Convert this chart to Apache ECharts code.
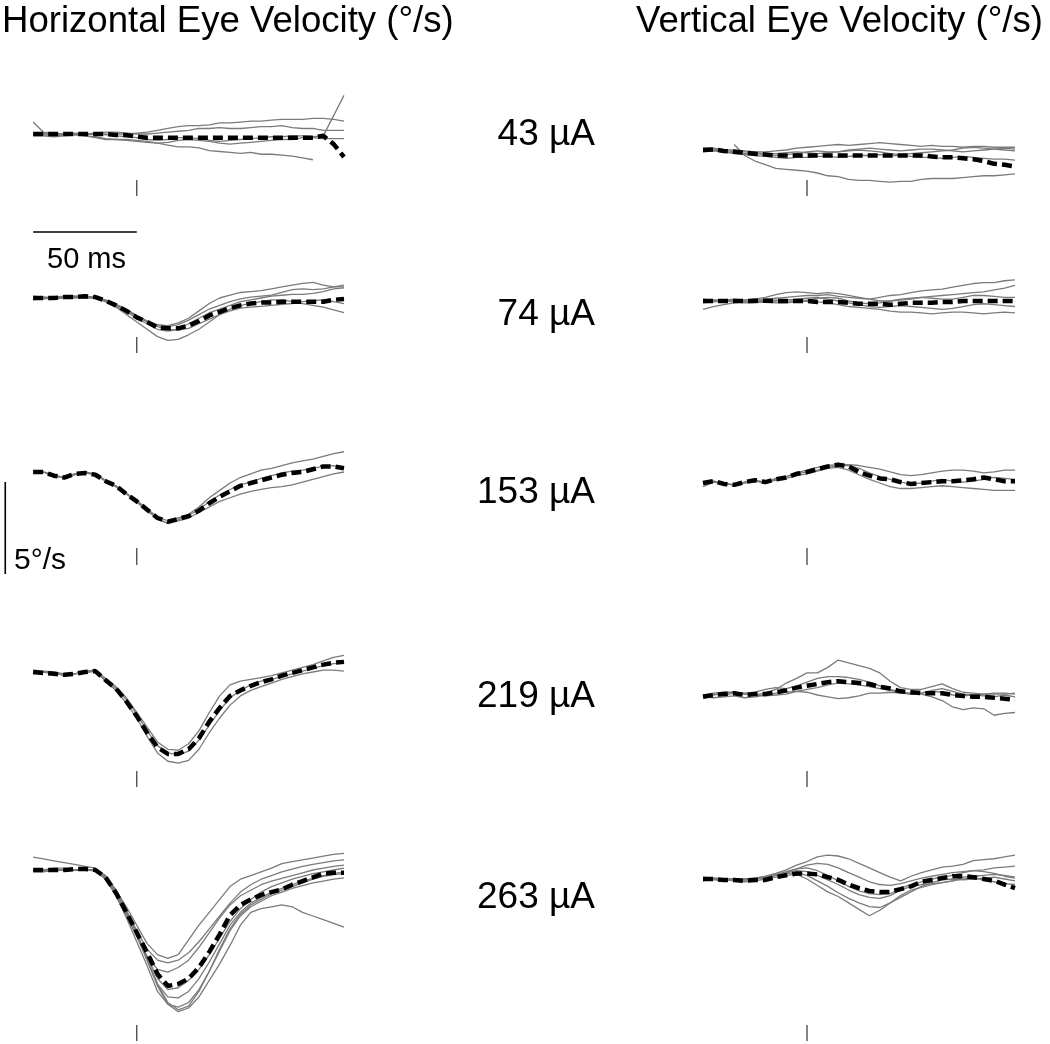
<!DOCTYPE html>
<html><head><meta charset="utf-8">
<script src="https://cdn.jsdelivr.net/npm/echarts@6/dist/echarts.min.js"></script>
<style>html,body{margin:0;padding:0;background:#fff}#c{width:1050px;height:1044px}</style>
</head><body><div id="c"></div>
<script>
// ---- time axis (ms relative to stimulation) ----
const timeMs = [-50,-45,-40,-35,-30,-25,-20,-15,-10,-5,0,5,10,15,20,25,30,35,40,45,50,55,60,65,70,75,80,85,90,95,100];

// ---- labels ----
const currents = ['43 µA','74 µA','153 µA','219 µA','263 µA'];
const titleH = 'Horizontal Eye Velocity (°/s)';
const titleV = 'Vertical Eye Velocity (°/s)';
const scaleTimeLabel = '50 ms';
const scaleVelLabel = '5°/s';
const scaleTimeMs = 50;
const scaleVelDeg = 5;

// ---- Horizontal velocity (°/s) ----
const H43_mean = [0,0,0,0,0, 0,0,0,-0.05,-0.05, -0.15,-0.2,-0.2,-0.2,-0.2, -0.2,-0.2,-0.2,-0.2,-0.2, -0.2,-0.2,-0.2,-0.2,-0.2, -0.2,-0.2,-0.2,-0.1,-0.55, -1.25];
const H43_trials = [
 [0,0.05,0,0,0.05, 0,0,-0.05,0,0, 0.05,0.1,0.2,0.3,0.4, 0.45,0.45,0.5,0.6,0.6, 0.65,0.7,0.7,0.75,0.8, 0.8,0.8,0.85,0.85,0.8, 0.7],
 [0,-0.05,-0.1,-0.05,0, -0.1,-0.2,-0.3,-0.3,-0.3, -0.35,-0.4,-0.5,-0.6,-0.7, -0.7,-0.75,-0.9,-0.95,-1.0, -1.05,-1.0,-1.1,-1.1,-1.15, -1.2,-1.3,-1.4,null,null, null],
 [0,0,0,-0.05,0, 0,0,0,-0.1,-0.15, -0.2,-0.3,-0.35,-0.3,-0.2, -0.2,-0.25,-0.35,-0.4,-0.35, -0.3,-0.25,-0.2,-0.15,-0.15, -0.1,-0.1,-0.15,-0.1,1.0, 2.1],
 [0.65,0.1,0.05,0,0, 0,0.05,0.1,0.1,0.05, 0,0,0.05,0.1,0.15, 0.2,0.3,0.3,0.35,0.3, 0.3,0.35,0.4,0.4,0.45, 0.35,0.3,0.3,0.2,0.2, 0.2],
 [-0.1,-0.1,-0.15,-0.1,-0.05, -0.1,-0.15,-0.25,-0.3,-0.35, -0.4,-0.45,-0.5,-0.45,-0.35, -0.3,-0.35,-0.4,-0.5,-0.55, -0.5,-0.45,-0.4,-0.35,-0.3, -0.3,-0.2,-0.2,-0.25,-0.25, -0.25]
];
const H74_mean = [0,0,0,0.05,0.05, 0.1,0.05,-0.15,-0.4,-0.7, -1.05,-1.3,-1.6,-1.65,-1.65, -1.5,-1.25,-0.95,-0.75,-0.55, -0.4,-0.3,-0.25,-0.25,-0.2, -0.2,-0.2,-0.2,-0.2,-0.1, -0.05];
const H74_trials = [
 [0.05,0,0.05,0.1,0.05, 0.1,0.05,-0.15,-0.4,-0.7, -1.0,-1.25,-1.45,-1.5,-1.35, -1.1,-0.7,-0.3,0,0.15, 0.3,0.35,0.4,0.5,0.6, 0.7,0.8,0.85,0.7,0.6, 0.6],
 [-0.1,0,0.05,0,0.05, 0,0,-0.2,-0.5,-0.9, -1.3,-1.7,-2.1,-2.3,-2.25, -2.0,-1.7,-1.3,-0.9,-0.6, -0.4,-0.3,-0.2,-0.1,-0.1, -0.2,-0.3,-0.4,-0.5,-0.65, -0.8],
 [0,0.05,0,0.05,0.1, 0.1,0,-0.2,-0.45,-0.75, -1.1,-1.4,-1.7,-1.8,-1.7, -1.4,-1.1,-0.8,-0.6,-0.4, -0.2,-0.1,0,0.1,0.15, 0.2,0.2,0.25,0.35,0.5, 0.55],
 [0,-0.05,0,0,0, 0.05,0.05,-0.15,-0.35,-0.65, -1.0,-1.3,-1.55,-1.7,-1.75, -1.65,-1.4,-1.15,-0.9,-0.7, -0.55,-0.5,-0.45,-0.4,-0.35, -0.3,-0.2,-0.15,-0.1,-0.2, -0.3],
 [0.1,0.05,0,0,0.1, 0.05,0,-0.1,-0.35,-0.6, -0.95,-1.25,-1.5,-1.55,-1.45, -1.2,-0.9,-0.6,-0.4,-0.2, -0.05,0.05,0.1,0.15,0.3, 0.45,0.5,0.45,0.5,0.6, 0.7]
];
const H153_mean = [0,0,-0.2,-0.3,-0.1, -0.05,-0.15,-0.5,-0.75,-1.2, -1.6,-2.05,-2.5,-2.7,-2.55, -2.4,-2.1,-1.7,-1.35,-1.05, -0.75,-0.6,-0.45,-0.3,-0.15, -0.05,0,0.15,0.3,0.3, 0.2];
const H153_trials = [
 [0,0,-0.2,-0.3,-0.1, 0,-0.1,-0.5,-0.8,-1.2, -1.6,-2.1,-2.5,-2.8,-2.6, -2.3,-1.9,-1.4,-1.0,-0.6, -0.3,-0.1,0.1,0.2,0.35, 0.5,0.6,0.7,0.85,1.0, 1.1],
 [0,0,-0.25,-0.3,-0.1, -0.05,-0.15,-0.5,-0.8,-1.2, -1.65,-2.1,-2.55,-2.8,-2.65, -2.5,-2.2,-1.9,-1.6,-1.4, -1.2,-1.05,-0.95,-0.85,-0.8, -0.7,-0.55,-0.4,-0.25,-0.1, 0],
 [0.05,0,-0.15,-0.3,-0.15, -0.05,-0.1,-0.45,-0.75,-1.15, -1.55,-2.0,-2.45,-2.65,-2.5, -2.35,-2.05,-1.6,-1.25,-0.95, -0.7,-0.55,-0.35,-0.2,-0.05, 0.05,0.1,0.2,0.3,0.35, 0.2]
];
const H219_mean = [0,-0.05,-0.1,-0.15,-0.1, 0,0.05,-0.45,-0.9,-1.6, -2.4,-3.3,-4.1,-4.45,-4.45, -4.2,-3.6,-2.7,-1.95,-1.3, -1.0,-0.75,-0.55,-0.4,-0.2, -0.05,0.1,0.25,0.4,0.5, 0.55];
const H219_trials = [
 [0,0,-0.1,-0.15,-0.1, 0,0.05,-0.5,-1.0,-1.7, -2.5,-3.5,-4.4,-4.85,-4.95, -4.8,-4.2,-3.3,-2.5,-1.8, -1.3,-1.0,-0.8,-0.6,-0.4, -0.25,-0.1,0,0.1,0.1, 0.05],
 [0.1,0.05,0,-0.1,-0.1, 0.05,0.1,-0.35,-0.8,-1.4, -2.2,-3.0,-3.8,-4.2,-4.25, -3.9,-3.2,-2.2,-1.3,-0.7, -0.5,-0.4,-0.3,-0.2,-0.05, 0.1,0.25,0.4,0.6,0.8, 0.9],
 [-0.1,0,-0.05,-0.2,-0.1, -0.05,0.05,-0.45,-0.9,-1.5, -2.3,-3.2,-4.0,-4.4,-4.5, -4.3,-3.7,-2.9,-2.1,-1.4, -1.0,-0.7,-0.5,-0.4,-0.25, -0.1,0.05,0.2,0.35,0.45, 0.5]
];
const H263_mean = [0,0,0,0,0.05, 0.05,0,-0.4,-1.25,-2.3, -3.4,-4.5,-5.65,-6.3,-6.2, -5.9,-5.3,-4.45,-3.5,-2.45, -1.9,-1.6,-1.35,-1.2,-1.05, -0.8,-0.6,-0.4,-0.2,-0.15, -0.15];
const H263_trials = [
 [0.7,0.6,0.5,0.4,0.3, 0.2,0.1,-0.3,-1.1,-2.0, -3.0,-4.0,-4.6,-4.8,-4.6, -3.8,-3.0,-2.3,-1.6,-0.9, -0.5,-0.3,-0.1,0.1,0.35, 0.45,0.55,0.65,0.75,0.85, 0.9],
 [0,0,0.1,0.1,0, 0,0,-0.4,-1.2,-2.2, -3.3,-4.3,-4.9,-5.05,-4.9, -4.5,-3.9,-3.2,-2.5,-1.8, -1.2,-0.8,-0.5,-0.3,-0.1, 0.05,0.2,0.3,0.4,0.5, 0.55],
 [0,0,0,0,0, 0,0,-0.5,-1.4,-2.5, -3.6,-4.7,-5.4,-5.55,-5.3, -4.9,-4.2,-3.4,-2.6,-1.9, -1.4,-1.1,-0.8,-0.6,-0.45, -0.3,-0.15,0,0.1,0.2, 0.27],
 [0,0,-0.05,0,0, 0,0,-0.4,-1.3,-2.4, -3.5,-4.7,-5.9,-6.5,-6.4, -6.0,-5.4,-4.6,-3.7,-2.8, -2.1,-1.6,-1.2,-0.9,-0.7, -0.5,-0.35,-0.2,-0.1,0, 0.1],
 [0,0,0,0,0, 0,0,-0.4,-1.3,-2.4, -3.6,-4.9,-6.2,-6.9,-6.95, -6.6,-5.9,-5.0,-4.0,-3.0, -2.3,-1.8,-1.5,-1.2,-1.0, -0.8,-0.6,-0.45,-0.3,-0.2, -0.1],
 [-0.1,-0.1,0,0,0, 0,-0.05,-0.5,-1.4,-2.6, -3.9,-5.2,-6.6,-7.3,-7.45, -7.2,-6.5,-5.5,-4.4,-3.3, -2.5,-2.0,-1.7,-1.4,-1.2, -1.0,-0.85,-0.7,-0.6,-0.5, -0.43],
 [0,0,0,0,0, 0,0,-0.4,-1.2,-2.3, -3.5,-4.9,-6.3,-7.3,-7.7, -7.5,-6.9,-6.0,-5.1,-4.1, -3.0,-2.3,-2.1,-2.0,-1.9, -2.0,-2.3,-2.5,-2.7,-2.9, -3.1],
 [0,0,0,0,0, 0,0,-0.35,-1.1,-2.2, -3.4,-4.8,-6.2,-7.2,-7.6, -7.4,-6.6,-5.5,-4.3,-3.2, -2.4,-1.9,-1.6,-1.3,-1.1, -0.9,-0.7,-0.5,-0.35,-0.25, -0.2]
];

// ---- Vertical velocity (°/s) ----
const V43_mean = [0,0.03,-0.05,-0.1,-0.15, -0.2,-0.25,-0.3,-0.3,-0.3, -0.3,-0.3,-0.3,-0.3,-0.3, -0.3,-0.3,-0.3,-0.3,-0.3, -0.3,-0.3,-0.35,-0.4,-0.4, -0.45,-0.5,-0.6,-0.75,-0.8, -0.9];
const V43_trials = [
 [null,null,null,0.3,-0.3, -0.6,-0.8,-1.0,-1.05,-1.1, -1.15,-1.25,-1.4,-1.45,-1.6, -1.65,-1.65,-1.7,-1.75,-1.7, -1.7,-1.6,-1.55,-1.55,-1.55, -1.5,-1.45,-1.4,-1.4,-1.35, -1.3],
 [0.1,0.1,0,0,-0.05, -0.1,-0.1,-0.05,0,0.1, 0.15,0.2,0.25,0.3,0.25, 0.3,0.35,0.4,0.35,0.3, 0.25,0.2,0.25,0.2,0.2, 0.15,0.2,0.2,0.15,0.15, 0.15],
 [-0.1,-0.05,-0.1,-0.15,-0.2, -0.2,-0.25,-0.3,-0.25,-0.2, -0.1,-0.05,-0.1,-0.1,0, 0.05,0.1,0.05,0,-0.05, 0,0.05,0.05,0,-0.05, -0.1,-0.05,0,0.05,0.1, 0.05],
 [0,0,-0.1,-0.2,-0.25, -0.3,-0.35,-0.4,-0.45,-0.4, -0.4,-0.35,-0.35,-0.4,-0.35, -0.3,-0.3,-0.25,-0.3,-0.3, -0.35,-0.4,-0.4,-0.45,-0.4, -0.35,-0.4,-0.45,-0.5,-0.5, -0.55],
 [0.05,0.05,0,-0.1,-0.1, -0.15,-0.2,-0.2,-0.15,-0.1, -0.15,-0.2,-0.15,-0.1,-0.05, 0,-0.05,-0.1,-0.2,-0.25, -0.2,-0.15,-0.1,-0.05,0, 0.1,0.15,0.1,0.05,0, -0.05]
];
const V74_mean = [0,0,0,0,0, 0.02,0.02,0,0,0, 0,-0.05,-0.05,-0.05,-0.1, -0.15,-0.15,-0.15,-0.2,-0.15, -0.1,-0.1,-0.1,-0.05,-0.05, 0,0,0,0,0, 0];
const V74_trials = [
 [0,0.05,0.05,0.1,0.05, 0.1,0.1,0.15,0.2,0.25, 0.3,0.3,0.35,0.25,0.2, 0.15,0.1,0.2,0.3,0.35, 0.45,0.55,0.6,0.65,0.75, 0.85,0.95,1.0,1.0,1.1, 1.15],
 [-0.1,-0.05,0,0,0.05, 0.1,0.2,0.35,0.45,0.5, 0.45,0.4,0.45,0.4,0.3, 0.2,0.1,0,0,0.05, 0.1,0.2,0.25,0.3,0.35, 0.4,0.45,0.5,0.6,0.7, 0.85],
 [-0.45,-0.3,-0.2,-0.1,-0.05, 0,-0.05,-0.1,-0.1,-0.05, 0,-0.05,-0.1,-0.2,-0.3, -0.35,-0.4,-0.45,-0.55,-0.6, -0.6,-0.65,-0.7,-0.65,-0.6, -0.6,-0.65,-0.7,-0.65,-0.6, -0.65],
 [0.1,0.05,0,-0.05,-0.1, -0.1,-0.05,0,0.05,0.1, 0.15,0.2,0.1,0,-0.1, -0.2,-0.3,-0.35,-0.3,-0.25, -0.3,-0.35,-0.4,-0.45,-0.4, -0.3,-0.2,-0.15,-0.2,-0.25, -0.3],
 [0,0,0.05,0,-0.05, 0,0.05,0.05,0,0, 0.05,0.15,0.2,0.15,0, -0.1,-0.15,-0.1,0,0.1, 0.15,0.2,0.15,0.1,0.1, 0.2,0.3,0.3,0.25,0.2, 0.2]
];
const V153_mean = [0,0.1,-0.05,-0.1,0.05, 0.15,0.05,0.2,0.3,0.5, 0.6,0.75,0.9,1.0,0.9, 0.6,0.4,0.25,0.2,0.05, -0.05,0,0.05,0.1,0.1, 0.15,0.2,0.3,0.2,0.1, 0.1];
const V153_trials = [
 [0,0.1,0,-0.1,0.05, 0.15,0.05,0.2,0.35,0.55, 0.7,0.85,0.95,1.0,1.0, 0.95,0.85,0.75,0.6,0.45, 0.4,0.45,0.55,0.65,0.7, 0.7,0.65,0.55,0.6,0.7, 0.7],
 [-0.2,0.05,-0.05,-0.1,0, 0.1,0,0.15,0.25,0.4, 0.5,0.65,0.8,0.85,0.7, 0.45,0.2,0,-0.2,-0.3, -0.3,-0.25,-0.2,-0.15,-0.2, -0.25,-0.3,-0.35,-0.4,-0.4, -0.4],
 [0,0.1,-0.05,-0.1,0.05, 0.1,0.05,0.25,0.35,0.5, 0.6,0.7,0.85,0.95,0.95, 0.8,0.55,0.35,0.2,0.05, -0.05,0,0.1,0.2,0.1, 0.05,0.1,0.2,0.3,0.25, 0.2]
];
const V219_mean = [-0.1,0,0.05,0.1,0, 0.05,0.05,0.15,0.25,0.4, 0.5,0.6,0.7,0.75,0.7, 0.65,0.6,0.45,0.35,0.2, 0.15,0.1,0.1,0.1,0, -0.05,-0.1,-0.1,-0.15,-0.2, -0.25];
const V219_trials = [
 [0,0.05,0,0.1,0.05, 0,0.1,0.3,0.65,0.9, 1.2,1.2,1.5,1.9,1.75, 1.6,1.45,1.2,0.75,0.4, 0.3,0.3,0.45,0.6,0.35, 0.15,0.1,0.05,0.05,0.05, 0.1],
 [-0.1,0,0.1,0.15,0.05, 0,-0.05,0,0.05,0.2, 0.3,0.4,0.55,0.65,0.6, 0.55,0.45,0.35,0.25,0.15, 0.1,0.05,-0.1,-0.3,-0.65, -0.8,-0.7,-0.75,-1.1,-1.0, -0.95],
 [-0.1,-0.15,-0.1,-0.05,-0.15, -0.1,0,0.1,0.15,0.2, 0.15,0,-0.1,-0.2,-0.15, -0.05,0.1,0.1,0.15,0.1, 0.05,0.1,0.25,0.35,0.2, 0.05,0,-0.05,-0.1,0, -0.1],
 [0,0.1,0.15,0.15,0.1, 0.15,0.3,0.4,0.35,0.5, 0.7,0.9,1.0,1.0,0.95, 0.85,0.7,0.5,0.3,0.15, 0.05,0.1,0.2,0.15,0, -0.05,0,0.05,0.1,0.1, 0.05]
];
const V263_mean = [0,0,-0.05,-0.05,-0.1, -0.05,-0.05,0.1,0.2,0.3, 0.3,0.25,0.1,-0.05,-0.3, -0.5,-0.65,-0.7,-0.7,-0.55, -0.4,-0.15,-0.05,0.05,0.15, 0.15,0.1,0,-0.1,-0.3, -0.5];
const V263_trials = [
 [0.1,0.05,0,-0.05,0, 0.05,0.15,0.3,0.5,0.75, 0.95,1.2,1.3,1.25,1.1, 0.85,0.6,0.35,0.1,-0.1, 0.15,0.35,0.5,0.65,0.7, 0.8,1.0,1.05,1.1,1.2, 1.3],
 [0,0,-0.1,-0.05,-0.15, -0.1,0,0.1,0.2,0.25, 0,-0.35,-0.7,-0.95,-1.3, -1.65,-2.0,-1.7,-1.3,-0.9, -0.6,-0.45,-0.3,-0.2,-0.1, 0.1,0.15,0.2,0.25,0.2, 0.1],
 [-0.1,0,-0.05,0,-0.05, 0,0.1,0.2,0.3,0.35, 0.2,-0.1,-0.4,-0.75,-1.05, -1.3,-1.5,-1.55,-1.3,-1.0, -0.7,-0.4,-0.2,-0.05,0, -0.05,0,0.05,0.1,0, -0.1],
 [0.05,0.05,0,0,-0.05, 0,0.1,0.25,0.4,0.55, 0.6,0.45,0.2,-0.1,-0.4, -0.65,-0.8,-0.85,-0.8,-0.5, -0.3,-0.15,0,0.1,0.2, 0.35,0.45,0.5,0.6,0.65, 0.7],
 [0,-0.05,-0.05,-0.1,-0.05, 0,0.1,0.2,0.35,0.45, 0.4,0.2,-0.05,-0.3,-0.6, -0.85,-1.0,-1.05,-0.9,-0.6, -0.4,-0.3,-0.25,-0.2,-0.1, 0,0.05,-0.05,-0.15,-0.25, -0.3],
 [0,0,-0.05,0,0, 0.05,0.1,0.2,0.35,0.55, 0.75,0.85,0.8,0.6,0.35, 0.1,-0.15,-0.3,-0.35,-0.25, -0.1,0.05,0.15,0.25,0.35, 0.4,0.45,0.4,0.3,0.15, 0.05]
];

// ---- layout (pixels) ----
const PX_PER_DEG = 18.4;
const PX_PER_MS = 2.08;
const colLeft = [32, 703];       // pixel of t = -50 ms
const X_PAD_MS = 16;             // extra room left of -50 ms (for scale bar)
const baseY = [[134,150],[298,301],[472,483],[672,695],[870,879]];
const tickY = [[180,196],[337,353],[548,565],[771,787],[1025,1041]];
const labelY = [135, 315, 493, 697, 898];
const Y_MIN = -8, Y_MAX = 4;

const panelData = [
  [[H43_mean,H43_trials],[V43_mean,V43_trials]],
  [[H74_mean,H74_trials],[V74_mean,V74_trials]],
  [[H153_mean,H153_trials],[V153_mean,V153_trials]],
  [[H219_mean,H219_trials],[V219_mean,V219_trials]],
  [[H263_mean,H263_trials],[V263_mean,V263_trials]]
];

function chk(a, name){ if(a.length !== timeMs.length) throw new Error('len ' + name + ' ' + a.length); }
panelData.forEach((r,ri)=>r.forEach((p,ci)=>{ chk(p[0],'mean'+ri+'_'+ci); p[1].forEach((t,k)=>chk(t,'trial'+ri+'_'+ci+'_'+k)); }));

const toPairs = arr => timeMs.map((t,k)=> [t, arr[k] === null ? '-' : arr[k]]);

const grids = [], xAxes = [], yAxes = [], series = [];
let gi = 0;
panelData.forEach((row, ri) => {
  row.forEach((p, ci) => {
    const b = baseY[ri][ci];
    grids.push({left: colLeft[ci] - X_PAD_MS*PX_PER_MS, width: (150 + X_PAD_MS)*PX_PER_MS, top: b - Y_MAX*PX_PER_DEG, height: (Y_MAX - Y_MIN)*PX_PER_DEG, containLabel:false});
    xAxes.push({type:'value', gridIndex: gi, min: -50 - X_PAD_MS, max: 100, show: false});
    yAxes.push({type:'value', gridIndex: gi, min: Y_MIN, max: Y_MAX, show: false});
    p[1].forEach(tr => series.push({type:'line', xAxisIndex: gi, yAxisIndex: gi, data: toPairs(tr), symbol:'none', clip:false, silent:true, animation:false,
      lineStyle:{color:'#7b7b7b', width:1.3}}));
    series.push({type:'line', xAxisIndex: gi, yAxisIndex: gi, data: toPairs(p[0]), symbol:'none', clip:false, silent:true, animation:false, z:5,
      lineStyle:{color:'#000', width:4.5, type:[10,5], cap:'butt'}});
    // stimulation onset tick at t = 0
    const t0 = (b - tickY[ri][0]) / PX_PER_DEG, t1 = (b - tickY[ri][1]) / PX_PER_DEG;
    series.push({type:'line', xAxisIndex: gi, yAxisIndex: gi, data: [[0,t0],[0,t1]], symbol:'none', clip:false, silent:true, animation:false,
      lineStyle:{color:'#333', width:1.2}});
    gi++;
  });
});

// scale bars: 50 ms (top-left panel), 5 °/s (middle-left panel)
{
  const yBar = (baseY[0][0] - 232) / PX_PER_DEG;
  series.push({type:'line', xAxisIndex:0, yAxisIndex:0, data:[[-50,yBar],[-50+scaleTimeMs,yBar]], symbol:'none', clip:false, silent:true, animation:false,
    lineStyle:{color:'#000', width:1.6}});
  const xBar = -50 + (4 - colLeft[0]) / PX_PER_MS;
  const yTop = (baseY[2][0] - 482) / PX_PER_DEG;
  series.push({type:'line', xAxisIndex:4, yAxisIndex:4, data:[[xBar,yTop],[xBar,yTop - scaleVelDeg]], symbol:'none', clip:false, silent:true, animation:false,
    lineStyle:{color:'#000', width:1.6}});
}

const FONT = '"Liberation Sans", Arial, Helvetica, sans-serif';
const graphics = [
  {type:'text', left: 2, top: 3, style:{text: titleH, font: '36.6px ' + FONT, fill:'#000'}},
  {type:'text', right: 7, top: 3, style:{text: titleV, font: '36.6px ' + FONT, fill:'#000'}},
  {type:'text', left: 47, top: 245, style:{text: scaleTimeLabel, font: '29px ' + FONT, fill:'#000'}},
  {type:'text', left: 14, top: 546, style:{text: scaleVelLabel, font: '30px ' + FONT, fill:'#000'}}
];
currents.forEach((c, i) => {
  graphics.push({type:'text', x: 595, y: labelY[i], style:{text: c, font: '37px ' + FONT, fill:'#000', align:'right', verticalAlign:'middle'}});
});

const chart = echarts.init(document.getElementById('c'), null, {renderer:'canvas'});
chart.setOption({
  backgroundColor:'#fff',
  animation:false,
  grid: grids, xAxis: xAxes, yAxis: yAxes, series: series,
  graphic: graphics
});
</script>
</body></html>
